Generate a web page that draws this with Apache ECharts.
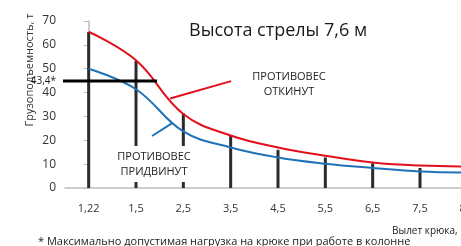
<!DOCTYPE html>
<html lang="ru">
<head>
    <meta charset="UTF-8">
    <title>Высота стрелы 7,6 м</title>
    <script src="https://cdn.jsdelivr.net/npm/echarts@6/dist/echarts.min.js"></script>
    <style>
        * { margin: 0; padding: 0; }
        body { background: #fff; }
        #chart { width: 461px; height: 246px; }
    </style>
</head>
<body>
    <div id="chart"></div>
    <script>
        // данные
        const categories = ['1,22', '1,5', '2,5', '3,5', '4,5', '5,5', '6,5', '7,5', '8,5'];
        const barValues = [65.4, 53.3, 31.3, 21.8, 16, 12.8, 10.4, 8.4, 7.6];
        const redValues = [65.5, 53.5, 31, 22, 17, 13.5, 10.7, 9.4, 9];
        const blueValues = [50, 41.4, 23.7, 17, 12.8, 10.2, 8.4, 6.9, 6.5];
        // горизонтальная линия 43,4* и выноски (x — индекс категории)
        const limitLine = [[-0.67, 44.8], [1.445, 44.8]];
        const redPointer = [[1.72, 37.5], [3.01, 44.8]];
        const bluePointer = [[1.34, 21.8], [1.78, 27.4]];

        const font = "'Open Sans', 'Noto Sans', sans-serif";
        const chart = echarts.init(document.getElementById('chart'));

        const option = {
            animation: false,
            textStyle: { fontFamily: font },
            title: {
                text: 'Высота стрелы 7,6 м',
                left: 184,
                top: 17,
                textStyle: { fontSize: 18, fontWeight: 'normal', color: '#1a1a1a', fontFamily: font }
            },
            grid: { left: 65, width: 426, top: 21, bottom: 58, outerBoundsMode: 'none', containLabel: false },
            xAxis: [
                {
                    type: 'category',
                    data: categories,
                    axisLine: { lineStyle: { color: '#bdbdbd', width: 1.5 } },
                    axisTick: { show: false },
                    axisLabel: { color: '#333', fontSize: 11, margin: 15 }
                },
                {
                    type: 'value',
                    min: -0.5,
                    max: categories.length - 0.5,
                    show: false
                }
            ],
            yAxis: {
                type: 'value',
                min: 0,
                max: 70,
                interval: 10,
                axisLine: { show: true, lineStyle: { color: '#bdbdbd', width: 1.5 } },
                axisTick: { show: true, length: 5, lineStyle: { color: '#bdbdbd' } },
                axisLabel: { color: '#333', fontSize: 12, margin: 9 },
                splitLine: { show: false }
            },
            series: [
                {
                    type: 'bar',
                    data: barValues,
                    barWidth: 3,
                    itemStyle: { color: '#2b2b2b' },
                    z: 1
                },
                {
                    type: 'line',
                    data: redValues,
                    smooth: 0.4,
                    symbol: 'none',
                    lineStyle: { color: '#e3101c', width: 2 },
                    z: 3
                },
                {
                    type: 'line',
                    data: blueValues,
                    smooth: 0.4,
                    symbol: 'none',
                    lineStyle: { color: '#1f72b8', width: 2 },
                    z: 3
                },
                {
                    type: 'line',
                    xAxisIndex: 1,
                    data: limitLine.map((p, i) => ({
                        value: p,
                        label: {
                            show: i === 0,
                            position: 'left',
                            distance: 1,
                            formatter: '43,4*',
                            color: '#222',
                            fontSize: 10
                        }
                    })),
                    symbol: 'circle',
                    symbolSize: 0,
                    showSymbol: true,
                    lineStyle: { color: '#000', width: 3 },
                    clip: false,
                    z: 4
                },
                {
                    type: 'line',
                    xAxisIndex: 1,
                    data: redPointer,
                    symbol: 'none',
                    lineStyle: { color: '#e3101c', width: 2 },
                    z: 3
                },
                {
                    type: 'line',
                    xAxisIndex: 1,
                    data: bluePointer,
                    symbol: 'none',
                    lineStyle: { color: '#1f72b8', width: 2 },
                    z: 3
                }
            ],
            graphic: [
                {
                    type: 'text',
                    x: 30, y: 70,
                    rotation: Math.PI / 2,
                    style: {
                        text: 'Грузоподъемность, т',
                        font: '11px ' + font,
                        fill: '#333',
                        align: 'center',
                        verticalAlign: 'middle'
                    }
                },
                {
                    type: 'text',
                    x: 289, y: 84,
                    style: {
                        text: 'ПРОТИВОВЕС\nОТКИНУТ',
                        font: '11px ' + font,
                        fill: '#222',
                        align: 'center',
                        verticalAlign: 'middle',
                        lineHeight: 15
                    }
                },
                {
                    type: 'text',
                    x: 154, y: 164,
                    z: 10,
                    style: {
                        text: 'ПРОТИВОВЕС\nПРИДВИНУТ',
                        font: '11px ' + font,
                        fill: '#222',
                        align: 'center',
                        verticalAlign: 'middle',
                        lineHeight: 15,
                        backgroundColor: '#fff',
                        padding: [3, 2, 3, 2]
                    }
                },
                {
                    type: 'text',
                    x: 392, y: 231,
                    style: {
                        text: 'Вылет крюка, м',
                        font: '10px ' + font,
                        fill: '#222',
                        verticalAlign: 'middle'
                    }
                },
                {
                    type: 'text',
                    x: 38, y: 242,
                    style: {
                        text: '* Максимально допустимая нагрузка на крюке при работе в колонне',
                        font: '11px ' + font,
                        fill: '#222',
                        verticalAlign: 'middle'
                    }
                }
            ]
        };

        chart.setOption(option);
    </script>
</body>
</html>
